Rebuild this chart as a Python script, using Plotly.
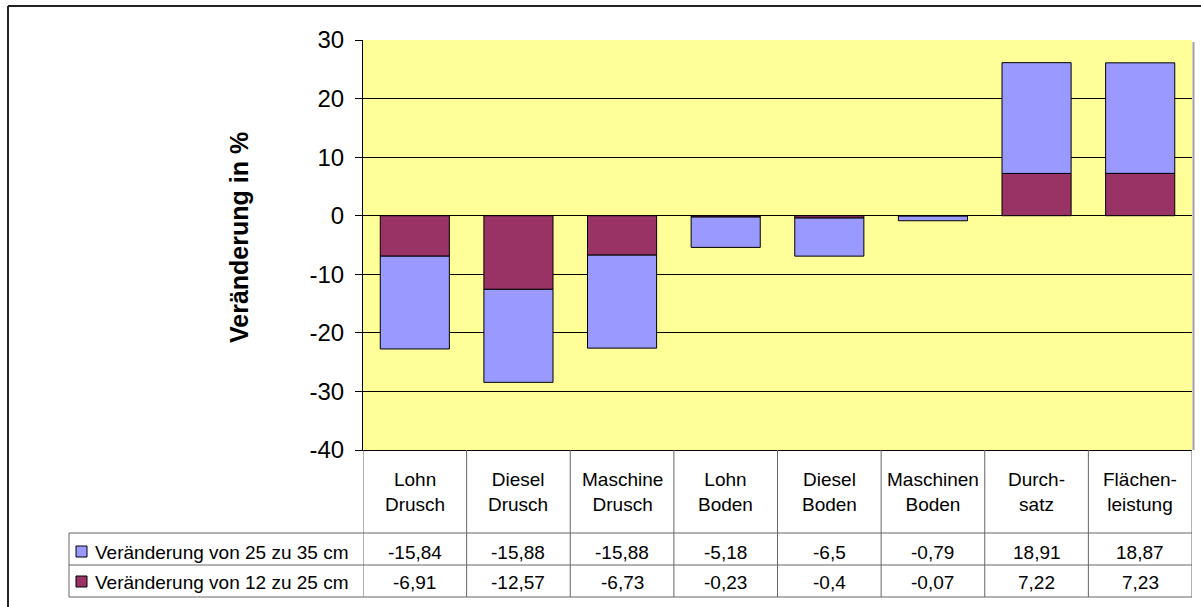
import plotly.graph_objects as go

# Kategorien (zweizeilige Beschriftung der Datentabelle)
categories = ["Lohn<br>Drusch", "Diesel<br>Drusch", "Maschine<br>Drusch", "Lohn<br>Boden",
              "Diesel<br>Boden", "Maschinen<br>Boden", "Durch-<br>satz", "Flächen-<br>leistung"]

# Veränderung in % je Tiefenstufe
change_25_35 = [-15.84, -15.88, -15.88, -5.18, -6.5, -0.79, 18.91, 18.87]
change_12_25 = [-6.91, -12.57, -6.73, -0.23, -0.4, -0.07, 7.22, 7.23]

series_names = ["Veränderung von 25 zu 35 cm", "Veränderung von 12 zu 25 cm"]
series_colors = ["#9999FF", "#993366"]

y_ticks = [-40, -30, -20, -10, 0, 10, 20, 30]

FONT = "Liberation Sans, Arial, sans-serif"
W, H = 1201, 607
L, R, T, B = 363, 1192, 40, 450   # plot area in pixels


def px_x(p):
    return (p - L) / (R - L)


def px_y(p):
    return (B - p) / (B - T)


fig = go.Figure()
xs = list(range(len(categories)))

# Excel stacks the first series next to the zero line
fig.add_trace(go.Bar(x=xs, y=change_12_25, name=series_names[1],
                     marker=dict(color=series_colors[1], line=dict(color="black", width=1))))
fig.add_trace(go.Bar(x=xs, y=change_25_35, name=series_names[0],
                     marker=dict(color=series_colors[0], line=dict(color="black", width=1))))

shapes = []
annotations = []
grid = "#666666"

# table rows (pixel y of horizontal rules)
row_cat_top, row1_top, row2_top, table_bottom = 450, 533, 565, 597
legend_left = 69

# horizontal rules
for yy in (row1_top, row2_top, table_bottom):
    shapes.append(dict(type="line", xref="paper", yref="paper", x0=px_x(legend_left), x1=1,
                       y0=px_y(yy), y1=px_y(yy), line=dict(color=grid, width=1)))
# vertical rules between categories
for i in range(len(categories) + 1):
    shapes.append(dict(type="line", xref="x", yref="paper", x0=i - 0.5, x1=i - 0.5,
                       y0=px_y(row_cat_top), y1=px_y(table_bottom), line=dict(color=grid, width=1)))
# left edge of the legend column
shapes.append(dict(type="line", xref="paper", yref="paper", x0=px_x(legend_left), x1=px_x(legend_left),
                   y0=px_y(row1_top), y1=px_y(table_bottom), line=dict(color=grid, width=1)))

# category labels
for i, c in enumerate(categories):
    annotations.append(dict(x=i, y=px_y(492), xref="x", yref="paper", text=c, showarrow=False,
                            font=dict(family=FONT, size=19, color="black"),
                            xanchor="center", yanchor="middle", align="center"))


def fmt(v):
    return str(v).replace(".", ",")


rows = [(change_25_35, 552, series_names[0], series_colors[0]),
        (change_12_25, 582, series_names[1], series_colors[1])]
for vals, yc, name, col in rows:
    for i, v in enumerate(vals):
        annotations.append(dict(x=i, y=px_y(yc), xref="x", yref="paper", text=fmt(v), showarrow=False,
                                font=dict(family=FONT, size=19, color="black"),
                                xanchor="center", yanchor="middle"))
    # legend key
    shapes.append(dict(type="rect", xref="paper", yref="paper", x0=px_x(76), x1=px_x(87),
                       y0=px_y(yc - 6), y1=px_y(yc + 5), fillcolor=col,
                       line=dict(color="black", width=1)))
    annotations.append(dict(x=px_x(93), y=px_y(yc), xref="paper", yref="paper", text=name,
                            showarrow=False, font=dict(family=FONT, size=19, color="black"),
                            xanchor="left", yanchor="middle"))

# axis title
annotations.append(dict(x=px_x(239), y=px_y(238), xref="paper", yref="paper",
                        text="<b>Veränderung in %</b>", textangle=-90, showarrow=False,
                        font=dict(family=FONT, size=25, color="black"),
                        xanchor="center", yanchor="middle"))

# plot area shadow on the right
shapes.append(dict(type="line", xref="paper", yref="paper", x0=px_x(R + 1.5), x1=px_x(R + 1.5),
                   y0=px_y(T + 2), y1=0, line=dict(color="#A0A0A0", width=2)))

# chart frame (left and top edges)
shapes.append(dict(type="line", xref="paper", yref="paper", x0=px_x(8), x1=px_x(8),
                   y0=px_y(6), y1=px_y(H + 2), line=dict(color="#222222", width=2)))
shapes.append(dict(type="line", xref="paper", yref="paper", x0=px_x(8), x1=px_x(W + 2),
                   y0=px_y(6), y1=px_y(6), line=dict(color="#222222", width=2)))

fig.update_layout(
    width=W, height=H,
    margin=dict(l=L, r=W - R, t=T, b=H - B, autoexpand=False),
    paper_bgcolor="white", plot_bgcolor="#FFFF99",
    barmode="relative", bargap=0.333,
    showlegend=False,
    shapes=shapes, annotations=annotations,
    font=dict(family=FONT, color="black"),
)
fig.update_xaxes(range=[-0.5, len(categories) - 0.5], showticklabels=False, showgrid=False,
                 zeroline=False, showline=True, linecolor="black", linewidth=1, fixedrange=True)
fig.update_yaxes(range=[-40, 30], tickvals=y_ticks, ticktext=[str(v) for v in y_ticks],
                 showgrid=True, gridcolor="black", gridwidth=1, zeroline=True, zerolinecolor="black",
                 zerolinewidth=1, showline=True, linecolor="black", linewidth=1,
                 ticks="outside", ticklen=7, tickcolor="black", ticklabelstandoff=6,
                 tickfont=dict(family=FONT, size=24, color="black"), fixedrange=True)

fig.write_html("out.html")
